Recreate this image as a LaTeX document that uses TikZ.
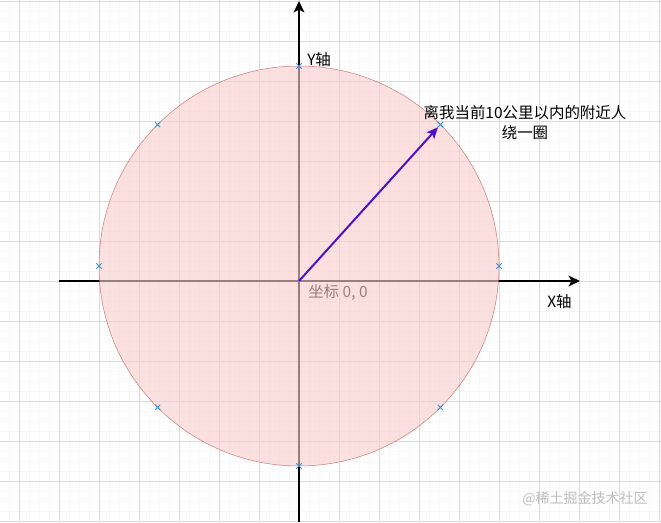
\documentclass[tikz,border=0pt]{standalone}
\usepackage{fontspec}
\newfontfamily\cjk{Noto Sans CJK SC}
\usetikzlibrary{arrows.meta, shapes.misc, positioning}
\definecolor{gridminor}{HTML}{F7F7F7}
\definecolor{gridmajor}{HTML}{DADADA}
\definecolor{ringfill}{HTML}{F8CECC}
\definecolor{ringline}{HTML}{B85450}
\definecolor{vecpurple}{HTML}{5010C8}
\definecolor{markblue}{HTML}{3A8FD6}
\definecolor{labelgray}{HTML}{BDBDBD}

\begin{document}
\begin{tikzpicture}[x=0.75pt, y=-0.75pt,
    axis/.style={line width=1.5pt, -{Stealth[length=8.5pt, width=8pt, inset=2pt]}},
    vec/.style={vecpurple, line width=1.5pt, -{Stealth[length=8.5pt, width=7.5pt, inset=2pt]}},
    xmark/.style={draw=markblue, cross out, line width=0.7pt, minimum size=4pt, inner sep=0pt, outer sep=0pt},
    lab/.style={font=\cjk\fontsize{11.6}{15}\selectfont, inner sep=0pt}]
    \useasboundingbox (0,0) rectangle (661,522);
    \fill [white] (0,0) rectangle (661,522);

    % grid
    \foreach \x in {9,19,...,659} \draw [gridminor, line width=0.6pt] (\x,0) -- (\x,522);
    \foreach \y in {1,11,...,521} \draw [gridminor, line width=0.6pt] (0,\y) -- (661,\y);
    \foreach \x in {19,59,...,659} \draw [gridmajor, line width=0.75pt] (\x,0) -- (\x,522);
    \foreach \y in {1,41,...,521} \draw [gridmajor, line width=0.75pt] (0,\y) -- (661,\y);

    \coordinate (O)  at (299, 281);
    \coordinate (Xs) at (59, 281);
    \coordinate (Xe) at (580, 281);
    \coordinate (Ys) at (299, 522);
    \coordinate (Ye) at (299, 1);

    \draw [axis] (Xs) -- (Xe);
    \draw [axis] (Ys) -- (Ye);
    \node [lab, anchor=west] (Olab) at (308, 292) {坐标 0, 0};

    \node [circle, draw=ringline, draw opacity=0.7, fill=ringfill, fill opacity=0.62,
           minimum size=300pt, inner sep=0pt, outer sep=0pt] (C) at (299, 266) {};

    \foreach \a in {0,45,...,315}
        \node [xmark] (M\a) at (C.\a) {};

    \draw [vec] (O) -- (M45);

    \node [lab, anchor=west] (Ylab) at (307, 60) {Y轴};
    \node [lab] (Xlab) at (559.5, 302) {X轴};
    \node [lab, align=center] (Rlab) at (525, 123) {离我当前10公里以内的附近人\\绕一圈};
    \node [font=\cjk\fontsize{10.5}{12}\selectfont, text=labelgray, inner sep=0pt] (Wm) at (585, 499) {@稀土掘金技术社区};
\end{tikzpicture}
\end{document}
